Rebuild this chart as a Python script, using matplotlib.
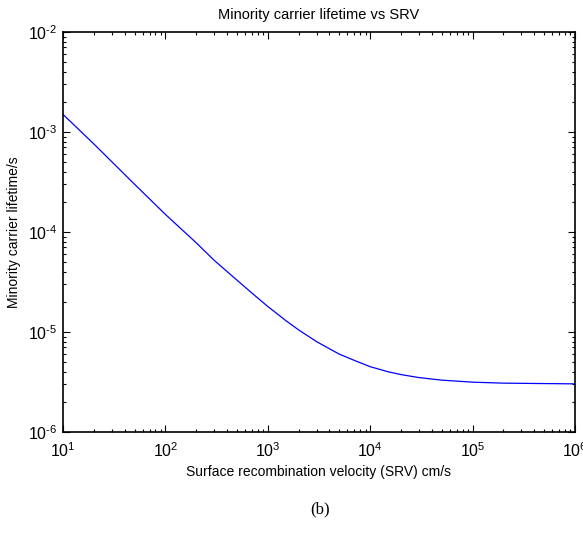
import matplotlib
matplotlib.use("Agg")
import matplotlib.pyplot as plt
import numpy as np
from matplotlib.ticker import LogLocator, NullFormatter, FuncFormatter

plt.rcParams['font.family'] = ['Liberation Sans', 'DejaVu Sans']
plt.rcParams['mathtext.fontset'] = 'custom'
plt.rcParams['mathtext.rm'] = 'Liberation Sans'

# values
srv = [10, 20, 50, 100, 200, 300, 500, 700, 1e3, 1.5e3, 2e3, 3e3, 5e3, 7e3,
       1e4, 1.5e4, 2e4, 3e4, 5e4, 1e5, 2e5, 5e5, 1e6]
lifetime = [1.5e-3, 7.6e-4, 3.0e-4, 1.5e-4, 7.8e-5, 5.2e-5, 3.3e-5, 2.45e-5,
            1.8e-5, 1.3e-5, 1.05e-5, 8.0e-6, 6.0e-6, 5.2e-6,
            4.5e-6, 4.0e-6, 3.75e-6, 3.5e-6, 3.3e-6, 3.15e-6, 3.08e-6, 3.05e-6, 3.03e-6]


def pow10(v, pos):
    e = int(round(np.log10(v)))
    if e < 0:
        return r'$\mathrm{10}^{\text{-}%d}$' % (-e)
    return r'$\mathrm{10}^{%d}$' % e


fig = plt.figure(figsize=(5.83, 5.33), dpi=100)
ax = fig.add_axes([63 / 583, 101 / 533, 512 / 583, 400 / 533])

ax.loglog(srv, lifetime, color='blue', linewidth=0.9)
ax.set_xlim(10, 1e6)
ax.set_ylim(1e-6, 1e-2)

ax.set_title("Minority carrier lifetime vs SRV", fontsize=10.5, pad=9)
ax.set_xlabel("Surface recombination velocity (SRV) cm/s", fontsize=10, labelpad=3)
ax.set_ylabel("Minority carrier lifetime/s", fontsize=10, labelpad=5)

ax.xaxis.set_major_locator(LogLocator(base=10, numticks=10))
ax.yaxis.set_major_locator(LogLocator(base=10, numticks=10))
ax.xaxis.set_minor_locator(LogLocator(base=10, subs=np.arange(2, 10), numticks=20))
ax.yaxis.set_minor_locator(LogLocator(base=10, subs=np.arange(2, 10), numticks=20))
ax.xaxis.set_major_formatter(FuncFormatter(pow10))
ax.yaxis.set_major_formatter(FuncFormatter(pow10))
ax.xaxis.set_minor_formatter(NullFormatter())
ax.yaxis.set_minor_formatter(NullFormatter())

ax.tick_params(which='both', direction='in', top=True, right=True, labelsize=11.5, width=0.8)
ax.tick_params(which='major', length=5, pad=4)
ax.tick_params(axis='x', which='major', pad=7)
ax.tick_params(which='minor', length=2.5)
for s in ax.spines.values():
    s.set_linewidth(1.2)

fig.text(320 / 583, 1 - 509 / 533, "(b)", ha='center', va='center',
         fontsize=12, family=['Liberation Serif', 'DejaVu Serif'])

fig.savefig("out.png", dpi=100)
